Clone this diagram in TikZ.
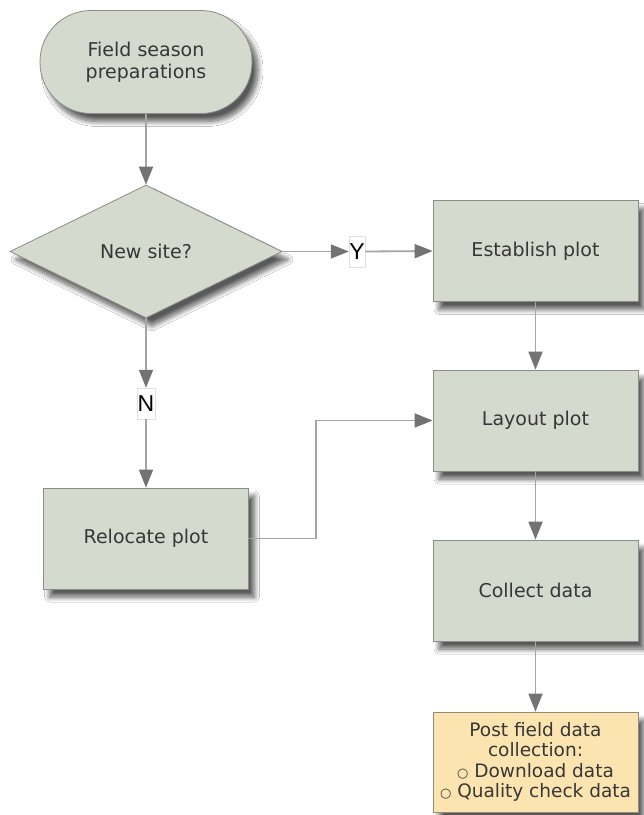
\documentclass[tikz,border=0pt]{standalone}
\usepackage{fontspec}
\setmainfont{DejaVu Sans}
\newfontfamily\lblfont{Liberation Sans}
\usetikzlibrary{shapes.geometric,arrows.meta,shadows.blur}
\definecolor{boxfill}{RGB}{212,218,206}
\definecolor{boxline}{RGB}{140,140,140}
\definecolor{postfill}{RGB}{251,228,176}
\definecolor{postline}{RGB}{150,140,120}
\definecolor{txt}{RGB}{55,55,55}
\definecolor{linegray}{RGB}{165,165,165}
\definecolor{tipgray}{RGB}{115,115,115}
\tikzset{
  shd/.style={blur shadow={shadow xshift=6pt,shadow yshift=-8pt,shadow blur steps=10,shadow opacity=65,shadow blur radius=5pt}},
  base/.style={draw=boxline,line width=0.8pt,fill=boxfill,text=txt,font=\fontsize{19}{22}\selectfont,align=center,inner sep=0pt,shd},
  stepbox/.style={base,rectangle,minimum width=205pt,minimum height=101pt},
  termbox/.style={base,rectangle,rounded corners=51pt,minimum width=212pt,minimum height=103pt},
  decbox/.style={base,diamond,aspect=2.05,minimum width=272pt,minimum height=133pt},
  postbox/.style={stepbox,fill=postfill,draw=postline,minimum height=100pt,font=\fontsize{18.5}{20.5}\selectfont},
  lbl/.style={draw=black!12,fill=white,line width=0.5pt,inner sep=0pt,minimum width=16pt,minimum height=31pt,font=\lblfont\fontsize{23}{23}\selectfont,text=black},
  conn/.style={draw=linegray,line width=1.8pt},
  arr/.style={conn,-{Triangle[length=18pt,width=14pt,color=tipgray,fill=tipgray]}}
}
\begin{document}
\begin{tikzpicture}[x=1pt,y=-1pt]
\useasboundingbox (0,0) rectangle (644,815);
\fill[white] (0,0) rectangle (644,815);
\node[termbox] (start) at (146,62) {Field season\\preparations};
\node[decbox] (dec) at (146,251.5) {New site?};
\node[stepbox] (est) at (535.5,251) {Establish plot};
\node[stepbox] (lay) at (535.5,420.5) {Layout plot};
\node[stepbox] (col) at (535.5,590.5) {Collect data};
\node[postbox] (post) at (535.5,762) {Post field data\\collection:\\{\fontsize{13}{13}\selectfont ○} Download data\\{\fontsize{13}{13}\selectfont ○} Quality check data};
\node[stepbox] (rel) at (146,538.5) {Relocate plot};
\node[lbl] (Y) at (357,251.5) {Y};
\node[lbl,minimum width=18pt] (N) at (146,403.5) {N};
\draw[arr] (start.south) -- (dec.north);
\draw[arr] (dec.east) -- (Y.west);
\draw[arr] (Y.east) -- (est.west);
\draw[arr] (est.south) -- (lay.north);
\draw[arr] (dec.south) -- (N.north);
\draw[arr] (N.south) -- (rel.north);
\coordinate (bend) at (316,538.5);
\draw[arr] (rel.east) -- (bend) |- (lay.west);
\draw[arr] (lay.south) -- (col.north);
\draw[arr] (col.south) -- (post.north);
\end{tikzpicture}
\end{document}
